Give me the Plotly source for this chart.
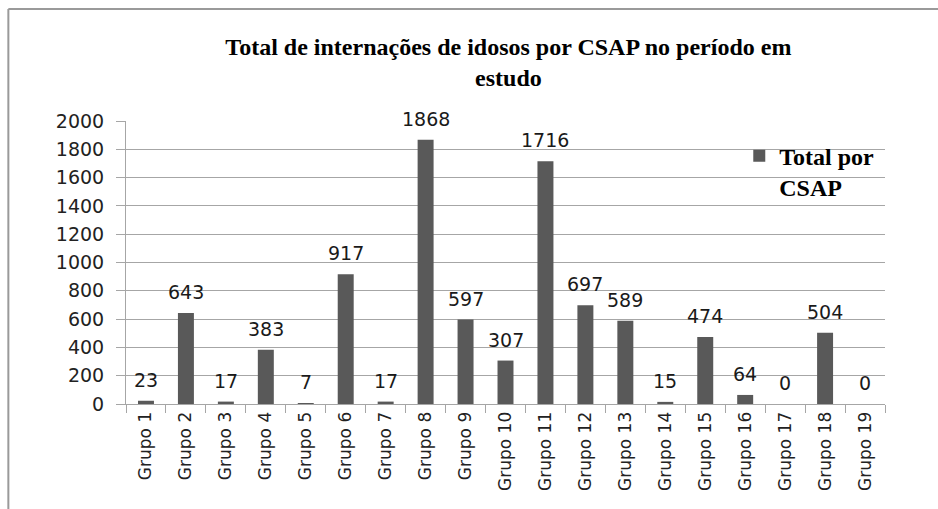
import plotly.graph_objects as go

categories = [f"Grupo {i}" for i in range(1, 20)]
values = [23, 643, 17, 383, 7, 917, 17, 1868, 597, 307, 1716, 697, 589, 15, 474, 64, 0, 504, 0]
y_ticks = list(range(0, 2001, 200))
series_name = "Total por<br>CSAP"
title_text = "Total de internações de idosos por CSAP no período em<br>estudo"

GRAY = "#a6a6a6"
BAR = "#595959"

fig = go.Figure()
fig.add_trace(go.Bar(
    x=categories, y=values, name=series_name,
    marker=dict(color=BAR, line=dict(width=0)),
    showlegend=True,
))

for c, v in zip(categories, values):
    fig.add_annotation(x=c, y=v, text=str(v), showarrow=False,
                       yanchor="bottom", yshift=8,
                       font=dict(family="DejaVu Sans", size=19, color="#1a1a1a"))

fig.update_layout(
    width=938, height=509,
    margin=dict(l=126, r=53, t=121, b=105),
    paper_bgcolor="white", plot_bgcolor="white",
    bargap=0.6,
    title=dict(text=title_text, x=0.542, xanchor="center", xref="container",
               y=0.892, yanchor="top", yref="container",
               font=dict(family="Liberation Serif", size=24, color="black", weight="bold")),
    legend=dict(x=0.808, y=0.955, xanchor="left", yanchor="top", valign="top",
                font=dict(family="Liberation Serif", size=24, color="black", weight="bold"),
                bgcolor="rgba(0,0,0,0)", itemwidth=30),
    shapes=[
        dict(type="line", xref="paper", yref="paper", x0=-0.155, x1=1.1, y0=1.396, y1=1.396,
             line=dict(color="#9a9a9a", width=2)),
        dict(type="line", xref="paper", yref="paper", x0=-0.155, x1=-0.155, y0=1.396, y1=-0.4,
             line=dict(color="#9a9a9a", width=2)),
    ],
)

fig.update_xaxes(
    type="category", tickangle=-90, tickson="boundaries",
    ticks="outside", ticklen=8, tickcolor=GRAY,
    showline=True, linecolor=GRAY, linewidth=1, showgrid=False,
    tickfont=dict(family="DejaVu Sans", size=17, color="#222"),
)
fig.update_yaxes(
    range=[0, 2000], tickvals=y_ticks, ticks="outside", ticklen=9, tickcolor=GRAY,
    showline=True, linecolor=GRAY, linewidth=1,
    showgrid=True, gridcolor=GRAY, gridwidth=1, zeroline=False,
    tickfont=dict(family="DejaVu Sans", size=19, color="#222"),
    ticklabelstandoff=8,
)

fig.write_html("out.html", config={"displayModeBar": False},
               post_script="document.body.style.margin='0';")
